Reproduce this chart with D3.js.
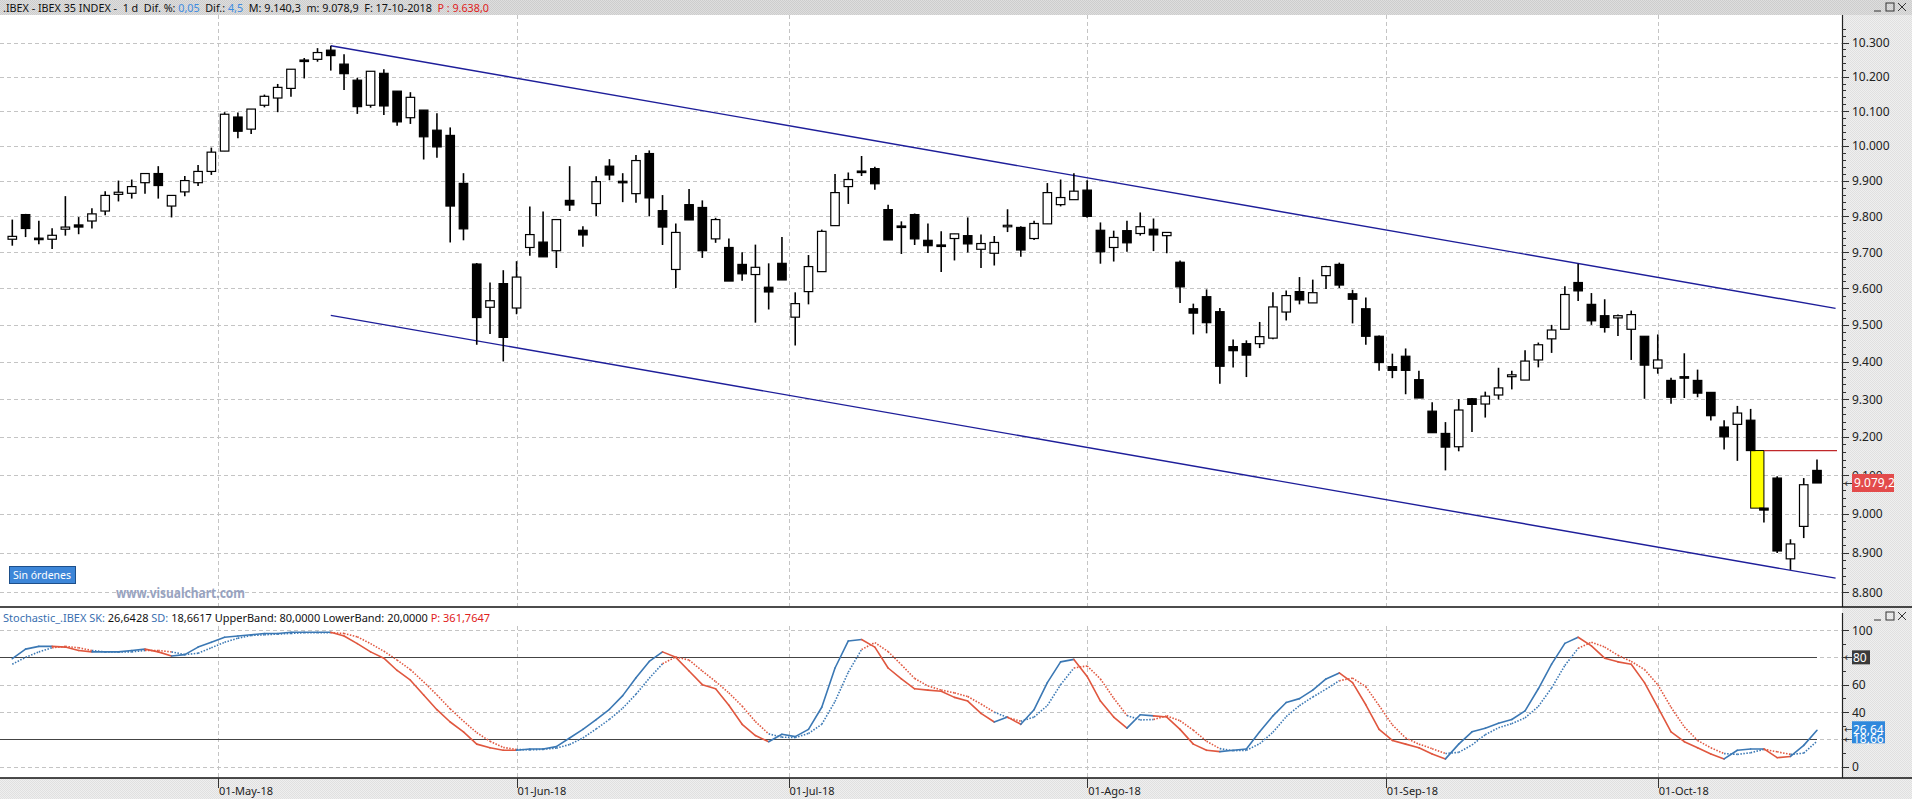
<!DOCTYPE html>
<html>
<head>
<meta charset="utf-8">
<script src="https://cdn.jsdelivr.net/npm/d3@7"></script>
<style>
body{margin:0;background:#fff;overflow:hidden}
text{font-family:"Noto Sans","DejaVu Sans",sans-serif}
</style>
</head>
<body>
<svg id="chart"></svg>
<script>
// velas diarias IBEX 35, 09-04-2018 .. 17-10-2018
const openP=[9736,9805,9739,9736,9764,9776,9787,9815,9862,9865,9895,9921,9829,9869,9895,9927,9985,10083,10048,10117,10138,10166,10249,10251,10278,10237,10190,10117,10210,10158,10081,10103,10045,10030,9893,9667,9548,9613,9546,9713,9728,9704,9845,9761,9836,9942,9899,9864,9978,9816,9652,9833,9825,9737,9713,9666,9638,9603,9669,9521,9591,9646,9774,9884,9928,9935,9819,9773,9805,9733,9720,9738,9746,9708,9697,9774,9769,9738,9779,9833,9847,9874,9761,9713,9760,9752,9764,9746,9672,9544,9577,9536,9441,9449,9449,9464,9535,9591,9560,9635,9666,9585,9544,9469,9387,9415,9352,9268,9209,9174,9301,9287,9311,9360,9351,9405,9462,9488,9616,9556,9525,9519,9488,9469,9383,9350,9360,9350,9318,9226,9233,9244,9014,9092,8884,8967,9112]
const highP=[9791,9807,9788,9767,9857,9798,9823,9871,9901,9904,9921,9942,9859,9914,9945,9995,10097,10096,10106,10148,10179,10222,10255,10284,10291,10266,10197,10216,10222,10158,10155,10103,10094,10053,9922,9670,9616,9650,9675,9828,9814,9791,9942,9772,9913,9962,9922,9974,9987,9860,9780,9877,9845,9796,9738,9700,9721,9669,9742,9589,9692,9763,9920,9924,9971,9940,9833,9786,9808,9780,9758,9751,9797,9749,9745,9820,9772,9788,9894,9904,9922,9902,9783,9760,9788,9811,9794,9755,9677,9558,9597,9546,9460,9458,9508,9589,9594,9631,9624,9662,9671,9596,9575,9471,9422,9436,9376,9292,9239,9300,9303,9320,9384,9376,9431,9452,9500,9606,9668,9587,9570,9528,9539,9469,9474,9357,9423,9379,9318,9244,9282,9274,9014,9097,8934,9092,9140.3]
const lowP=[9718,9742,9722,9709,9746,9750,9766,9803,9842,9850,9864,9850,9797,9857,9886,9917,9985,10022,10034,10111,10097,10142,10195,10244,10218,10161,10092,10110,10089,10058,10063,9961,9966,9727,9733,9446,9475,9401,9529,9690,9687,9656,9815,9715,9801,9902,9840,9838,9800,9720,9601,9790,9684,9726,9620,9621,9506,9542,9623,9444,9556,9646,9774,9835,9914,9875,9734,9695,9720,9698,9645,9677,9699,9656,9663,9756,9687,9734,9779,9828,9847,9796,9668,9674,9701,9746,9703,9697,9560,9474,9477,9341,9385,9359,9437,9461,9512,9556,9560,9598,9601,9504,9446,9376,9356,9313,9303,9211,9112,9162,9213,9251,9299,9326,9351,9385,9424,9488,9565,9500,9479,9470,9405,9301,9368,9288,9303,9305,9243,9167,9137,9164,8977,8899,8856,8937,9078.9]
const closeP=[9744,9766,9738,9747,9770,9770,9807,9859,9868,9884,9921,9887,9859,9901,9927,9982,10091,10042,10106,10143,10169,10222,10247,10271,10262,10209,10113,10216,10115,10069,10140,10026,9997,9829,9765,9520,9566,9466,9631,9749,9687,9791,9832,9748,9898,9917,9898,9958,9852,9770,9755,9790,9704,9791,9620,9640,9658,9590,9623,9558,9660,9758,9867,9904,9924,9892,9734,9772,9737,9718,9717,9751,9723,9724,9727,9775,9706,9780,9867,9853,9871,9800,9701,9741,9726,9771,9748,9755,9604,9532,9506,9388,9430,9418,9468,9549,9580,9568,9588,9660,9609,9570,9469,9398,9377,9377,9303,9211,9173,9271,9286,9308,9330,9365,9402,9446,9486,9583,9593,9511,9493,9525,9528,9391,9405,9305,9359,9316,9256,9200,9263,9164,9009,8904,8922,9074.7,9079.2]

// estocastico SK (continua) y SD (punteada)
const skVals=[79,86,88,88,87.5,85,84,84,84,85,86,84,81,82,87.5,91,94.7,95.6,96.5,97.4,97.4,98.3,98.3,98.3,98.3,95.6,90,84,79.4,70.4,63.3,52.5,41.7,32.7,25.5,16.5,13.8,12,12,13,13,14.7,21,27.3,34.5,42,52,65,77,84,80,70,60,57,45,31,22.8,18.3,23.7,22,27.3,43.5,72.2,92,93,87.5,72.2,64.2,57,56,55.2,50.7,48,39,32.7,36.3,31,41.7,61.5,76.7,78.5,66,48,36.3,28.2,38,37.2,36.3,27.3,16.5,12,11,12,13,25.5,37.2,47,49.8,56,64.2,68.6,61.5,45.3,27.3,19.2,16.5,13.8,9.3,5.7,16.5,25.5,28.2,31.8,34.5,40.8,57,75,90.2,94.7,88.4,79.4,76.7,75,61.5,43.5,25.5,18.3,13.8,9.3,5.7,12,13,13,6.6,7.5,15.6,26.64]
const sdVals=[75,80,84,87,88,87,85,84,84,84,85,85,84,82,83,87,91,94,96,96.5,97,97.5,98,98,98,97.5,95,90,84.5,78,71,62,52.5,42.3,33.3,24.9,18.6,14.1,12.6,12.3,12.7,13.6,16.2,21,27.6,34.6,42.8,53,64.7,75.3,80.3,78,70,62.3,54,44.3,33,24,21.6,21.3,24.3,31,47.7,69.2,85.7,90.8,84.2,74.6,64.5,59.1,56.1,54,51.3,45.9,39.9,36,33.3,36.3,44.7,60,72.2,73.7,64.2,50.1,37.5,34.2,34.5,37.2,33.6,26.7,18.6,13.2,11.7,12,16.8,25.2,36.6,44.7,51,56.7,62.9,64.8,58.5,44.7,30.6,21,16.5,13.2,9.6,10.5,15.9,23.4,28.5,31.5,35.7,44.1,57.6,74.1,86.6,91.1,87.5,81.5,77,71.1,60,43.5,29.1,19.2,13.8,9.6,9,10.2,12.7,10.9,9,9.9,18.66]

const priceTicks=[8800,8900,9000,9100,9200,9300,9400,9500,9600,9700,9800,9900,10000,10100,10200,10300]
const stochTicks=[0,20,40,60,80,100]
const stochLabels=[0,40,60,100]
const monthLabels=["01-May-18","01-Jun-18","01-Jul-18","01-Ago-18","01-Sep-18","01-Oct-18"]
const monthPos=[15.5,38,58.5,81,103.5,124]
const channelUp=[[24,10291],[137.4,9545]]
const channelDn=[[24,9526],[137.4,8835]]
const gapIdx=131
const bands=[20,80]

const W=1912,H=799
const axX=1842
const es=d3.formatLocale({decimal:",",thousands:".",grouping:[3]})
const fmtP=es.format(",d")

const svg=d3.select("#chart").attr("width",W).attr("height",H)
const defs=svg.append("defs")
function dither(id,a,b){
const p=defs.append("pattern").attr("id",id).attr("width",2).attr("height",2).attr("patternUnits","userSpaceOnUse")
p.append("rect").attr("width",2).attr("height",2).attr("fill",a)
p.append("rect").attr("width",1).attr("height",1).attr("fill",b)
p.append("rect").attr("x",1).attr("y",1).attr("width",1).attr("height",1).attr("fill",b)
}
dither("bar","#dedede","#cdcdcd")
dither("axis","#efefef","#e0e0e0")

const x=d3.scaleLinear().domain([0,136]).range([12.3,1817])
const y=d3.scaleLog().domain([8800,10300]).range([592,42.7])
const ys=d3.scaleLinear().domain([0,100]).range([766.7,630])

// fondos
svg.append("rect").attr("x",0).attr("y",0).attr("width",W).attr("height",15).attr("fill","url(#bar)")
svg.append("rect").attr("x",0).attr("y",15).attr("width",axX).attr("height",592).attr("fill","#fff")
svg.append("rect").attr("x",axX).attr("y",15).attr("width",W-axX).attr("height",763).attr("fill","url(#axis)")
svg.append("rect").attr("x",0).attr("y",607).attr("width",axX).attr("height",171).attr("fill","#fff")
svg.append("rect").attr("x",0).attr("y",778).attr("width",W).attr("height",21).attr("fill","url(#axis)")

// rejilla
const grid=svg.append("g").attr("stroke","#c4c4c4").attr("stroke-dasharray","4,3").attr("stroke-width",1)
grid.selectAll(".hp").data(priceTicks).enter().append("line")
.attr("x1",0).attr("x2",axX).attr("y1",d=>Math.round(y(d))+0.5).attr("y2",d=>Math.round(y(d))+0.5)
grid.selectAll(".hs").data(stochTicks).enter().append("line")
.attr("x1",0).attr("x2",axX).attr("y1",d=>Math.round(ys(d))+0.5).attr("y2",d=>Math.round(ys(d))+0.5)
grid.selectAll(".vm").data(monthPos).enter().append("line")
.attr("x1",d=>Math.round(x(d))+0.5).attr("x2",d=>Math.round(x(d))+0.5).attr("y1",15).attr("y2",606)
grid.selectAll(".vs").data(monthPos).enter().append("line")
.attr("x1",d=>Math.round(x(d))+0.5).attr("x2",d=>Math.round(x(d))+0.5).attr("y1",626).attr("y2",777)

// canal
const chan=svg.append("g").attr("stroke","#1e1e9a").attr("stroke-width",1.4)
;[channelUp,channelDn].forEach(c=>{
chan.append("line").attr("x1",x(c[0][0])).attr("y1",y(c[0][1])).attr("x2",x(c[1][0])).attr("y2",y(c[1][1]))
})

// hueco
const gapTop=closeP[gapIdx],gapBot=openP[gapIdx+1]
svg.append("rect").attr("x",x(gapIdx)).attr("y",y(gapTop)).attr("width",x(gapIdx+1)-x(gapIdx)).attr("height",y(gapBot)-y(gapTop))
.attr("fill","#ffff00").attr("stroke","#000").attr("stroke-width",1)
svg.append("line").attr("x1",x(gapIdx+1)).attr("x2",1837).attr("y1",y(gapTop)).attr("y2",y(gapTop))
.attr("stroke","#c0282a").attr("stroke-width",1.3)

// velas
const idx=d3.range(openP.length)
const bw=8.5
const cg=svg.append("g")
cg.selectAll(".wick").data(idx).enter().append("line")
.attr("x1",i=>x(i)).attr("x2",i=>x(i)).attr("y1",i=>y(highP[i])).attr("y2",i=>y(lowP[i]))
.attr("stroke","#000").attr("stroke-width",1.6)
cg.selectAll(".body").data(idx).enter().append("rect")
.attr("x",i=>x(i)-bw/2)
.attr("y",i=>y(Math.max(openP[i],closeP[i])))
.attr("width",bw)
.attr("height",i=>Math.max(1.5,Math.abs(y(openP[i])-y(closeP[i]))))
.attr("fill",i=>closeP[i]>=openP[i]?"#fff":"#000")
.attr("stroke","#000").attr("stroke-width",1.2)

// eje precios
svg.append("line").attr("x1",axX+0.5).attr("x2",axX+0.5).attr("y1",15).attr("y2",607).attr("stroke","#222").attr("stroke-width",1.2)
const minor=d3.range(8800,10341,20)
svg.append("g").selectAll("line").data(minor).enter().append("line")
.attr("x1",axX).attr("x2",d=>d%100===0?axX+7:axX+4)
.attr("y1",d=>Math.round(y(d))+0.5).attr("y2",d=>Math.round(y(d))+0.5)
.attr("stroke","#333")
svg.append("g").selectAll("text").data(priceTicks).enter().append("text")
.attr("x",axX+10).attr("y",d=>y(d)+4.5).attr("font-size",12).attr("fill","#222").text(d=>fmtP(d))

// etiqueta ultimo precio
const last=closeP[closeP.length-1]
svg.append("text").attr("x",axX+2).attr("y",y(last)+4).attr("font-size",11).attr("fill","#333").text("←")
svg.append("rect").attr("x",axX+10).attr("y",y(last)-9).attr("width",42).attr("height",18).attr("fill","#e34b4b")
svg.append("text").attr("x",axX+12).attr("y",y(last)+4.5).attr("font-size",12).attr("fill","#fff").text(es.format(",.1f")(last))

// cabecera
const head=svg.append("text").attr("x",3).attr("y",11.5).attr("font-size",11).attr("fill","#111")
.attr("xml:space","preserve").attr("textLength",486).attr("lengthAdjust","spacingAndGlyphs")
;[[".IBEX - IBEX 35 INDEX -  1 d  Dif. %: ","#111"],["0,05","#3d8be0"],["  Dif.: ","#111"],["4,5","#3d8be0"],
["  M: 9.140,3  m: 9.078,9  F: 17-10-2018  ","#111"],["P : 9.638,0","#e02020"]].forEach(p=>{
head.append("tspan").attr("fill",p[1]).text(p[0])
})

function winButtons(yb){
const g=svg.append("g").attr("stroke","#333").attr("fill","none").attr("stroke-width",1)
g.append("line").attr("x1",1874).attr("x2",1881).attr("y1",yb+5).attr("y2",yb+5)
g.append("rect").attr("x",1886).attr("y",yb-3).attr("width",8).attr("height",8)
g.append("line").attr("x1",1898).attr("x2",1906).attr("y1",yb-3).attr("y2",yb+5)
g.append("line").attr("x1",1906).attr("x2",1898).attr("y1",yb-3).attr("y2",yb+5)
}
winButtons(6)
winButtons(615)

// boton y marca
svg.append("rect").attr("x",9.5).attr("y",566.5).attr("width",66).attr("height",17).attr("fill","#3d86d8").attr("stroke","#1d4f8a")
svg.append("text").attr("x",13).attr("y",579).attr("font-size",10.5).attr("fill","#fff").text("Sin órdenes")
svg.append("text").attr("x",116).attr("y",598).attr("font-size",13.5).attr("font-weight","bold").attr("fill","#98a3c0")
.attr("textLength",129).attr("lengthAdjust","spacingAndGlyphs").text("www.visualchart.com")

// panel estocastico
svg.append("line").attr("x1",0).attr("x2",W).attr("y1",607).attr("y2",607).attr("stroke","#111").attr("stroke-width",1.5)
svg.append("line").attr("x1",0).attr("x2",W).attr("y1",778).attr("y2",778).attr("stroke","#111").attr("stroke-width",1.5)
svg.append("line").attr("x1",axX+0.5).attr("x2",axX+0.5).attr("y1",613).attr("y2",778).attr("stroke","#222").attr("stroke-width",1.2)

const sh=svg.append("text").attr("x",3).attr("y",622).attr("font-size",11).attr("xml:space","preserve")
.attr("textLength",487).attr("lengthAdjust","spacingAndGlyphs")
;[["Stochastic_.IBEX ","#3a6fb0"],["SK: ","#3a6fb0"],["26,6428 ","#111"],["SD: ","#3a6fb0"],["18,6617 ","#111"],
["UpperBand: 80,0000 LowerBand: 20,0000 ","#111"],["P: 361,7647","#e02020"]].forEach(p=>{
sh.append("tspan").attr("fill",p[1]).text(p[0])
})

svg.append("g").selectAll("line").data(bands).enter().append("line")
.attr("x1",0).attr("x2",x(136)).attr("y1",d=>Math.round(ys(d))+0.5).attr("y2",d=>Math.round(ys(d))+0.5)
.attr("stroke","#444").attr("stroke-width",1.2)

const sMinor=d3.range(0,101,10)
svg.append("g").selectAll("line").data(sMinor).enter().append("line")
.attr("x1",axX).attr("x2",d=>d%20===0?axX+7:axX+4)
.attr("y1",d=>Math.round(ys(d))+0.5).attr("y2",d=>Math.round(ys(d))+0.5).attr("stroke","#333")
svg.append("g").selectAll("text").data(stochLabels).enter().append("text")
.attr("x",axX+10).attr("y",d=>ys(d)+4.5).attr("font-size",12).attr("fill","#222").text(d=>d)

// lineas SK / SD coloreadas por cruce
const blue="#3b78b4",red="#e0573f"
const seg=svg.append("g").attr("fill","none")
for(let i=0;i<skVals.length-1;i++){
const c=skVals[i+1]>=sdVals[i+1]?blue:red
seg.append("line").attr("x1",x(i)).attr("x2",x(i+1)).attr("y1",ys(sdVals[i])).attr("y2",ys(sdVals[i+1]))
.attr("stroke",c).attr("stroke-width",1.6).attr("stroke-dasharray","1.5,1.5")
seg.append("line").attr("x1",x(i)).attr("x2",x(i+1)).attr("y1",ys(skVals[i])).attr("y2",ys(skVals[i+1]))
.attr("stroke",c).attr("stroke-width",1.6).attr("stroke-linecap","round")
}

// etiquetas a la derecha del estocastico
svg.append("text").attr("x",axX+2).attr("y",ys(80)+4).attr("font-size",11).attr("fill","#333").text("←")
svg.append("rect").attr("x",axX+10).attr("y",ys(80)-7).attr("width",18).attr("height",14).attr("fill","#3a3a3a")
svg.append("text").attr("x",axX+11).attr("y",ys(80)+4.5).attr("font-size",12).attr("fill","#fff").text("80")
const skL=skVals[skVals.length-1],sdL=sdVals[sdVals.length-1]
const arr=svg.append("text").attr("font-size",10).attr("fill","#333")
arr.append("tspan").attr("x",axX+2).attr("y",ys(skL)+3).text("←")
arr.append("tspan").attr("x",axX+2).attr("y",ys(sdL)+2).text("←")
svg.append("rect").attr("x",axX+10).attr("y",ys(skL)-9).attr("width",33).attr("height",22).attr("fill","#2f88dc")
const lv=svg.append("text").attr("font-size",12).attr("fill","#fff")
lv.append("tspan").attr("x",axX+11).attr("y",ys(skL)+3.5).text(es.format(",.2f")(skL))
lv.append("tspan").attr("x",axX+11).attr("y",ys(skL)+13).text(es.format(",.2f")(sdL))

// eje de fechas
svg.append("g").selectAll("line").data(monthPos).enter().append("line")
.attr("x1",d=>Math.round(x(d))+0.5).attr("x2",d=>Math.round(x(d))+0.5).attr("y1",778).attr("y2",788)
.attr("stroke","#333")
svg.append("g").selectAll("text").data(monthLabels).enter().append("text")
.attr("x",(d,i)=>x(monthPos[i])+1).attr("y",795).attr("font-size",11).attr("fill","#222").text(d=>d)
</script>
</body>
</html>
